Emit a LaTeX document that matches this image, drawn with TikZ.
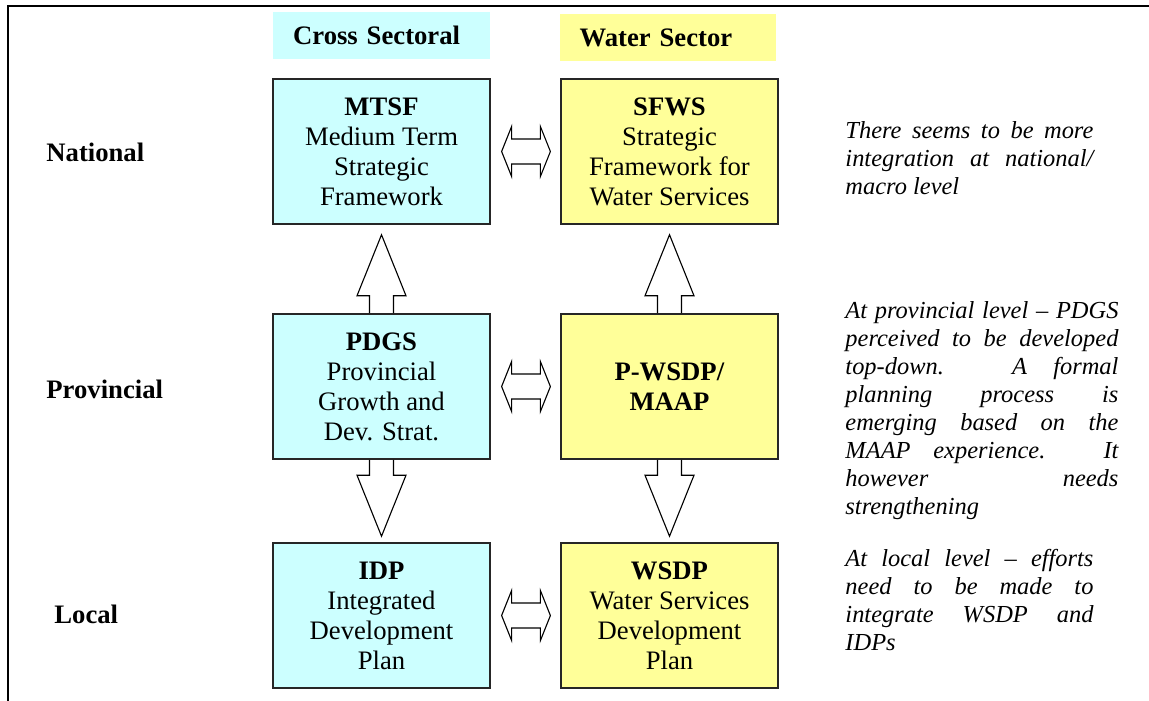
\documentclass[tikz,border=0pt]{standalone}
\usepackage{fontspec}
\setmainfont{Liberation Serif}
\usetikzlibrary{calc}

\definecolor{crosscyan}{RGB}{204,255,255}
\definecolor{wateryellow}{RGB}{255,255,153}

\begin{document}
\begin{tikzpicture}[x=0.45pt, y=-0.45pt,
    plan/.style={draw=black!85, line width=0.7pt, minimum width=97.5pt, minimum height=65.25pt,
        align=center, inner sep=2pt, font=\fontsize{12}{13.5}\selectfont},
    head/.style={inner xsep=9pt, text width=79.5pt, minimum height=21.5pt, align=left,
        font=\fontsize{12}{13.5}\selectfont\bfseries},
    level/.style={anchor=west, inner sep=0pt, font=\fontsize{12}{13.5}\selectfont\bfseries},
    note/.style={anchor=base west, inner sep=0pt, align=justify,
        font=\fontsize{11}{12.6}\selectfont\itshape},
    blk/.style={draw, line width=0.5pt, line join=miter}]
        \useasboundingbox (0,0) rectangle (1149,700);
        \clip (0,0) rectangle (1149,700);
        \draw[line width=0.9pt] (8,710) -- (8,6) -- (1160,6);

        % column heads
        \node[head, fill=crosscyan] (cross) at (381.5,35.5) {Cross Sectoral};
        \node[head, fill=wateryellow] (water) at (668,37.5) {Water Sector};

        % levels
        \node[level] (national) at (46,152) {National};
        \node[level] (provincial) at (46,389) {Provincial};
        \node[level] (local) at (54,614) {Local};

        % plans
        \node[plan, fill=crosscyan] (mtsf) at (381.5,151.5) {\textbf{MTSF}\\Medium Term\\Strategic\\Framework};
        \node[plan, fill=wateryellow] (sfws) at (669.5,151.5) {\textbf{SFWS}\\Strategic\\Framework for\\Water Services};
        \node[plan, fill=crosscyan] (pdgs) at (381.5,386.5) {\textbf{PDGS}\\Provincial\\Growth and\\Dev. Strat.};
        \node[plan, fill=wateryellow] (pwsdp) at (669.5,386.5) {\textbf{P-WSDP/}\\\textbf{MAAP}};
        \node[plan, fill=crosscyan] (idp) at (381.5,615.5) {\textbf{IDP}\\Integrated\\Development\\Plan};
        \node[plan, fill=wateryellow] (wsdp) at (669.5,615.5) {\textbf{WSDP}\\Water Services\\Development\\Plan};

        % block arrows
        \foreach \a/\b in {mtsf/sfws, pdgs/pwsdp, idp/wsdp}
            \draw[blk] ($(\a.east)+(11,0)$) -- ++(10,-25) -- ++(0,12.5) -- ($(\b.west)+(-20,-12.5)$)
                -- ++(0,-12.5) -- ++(10,25) -- ++(-10,25) -- ++(0,-12.5)
                -- ($(\a.east)+(21,12.5)$) -- ++(0,12.5) -- cycle;
        \foreach \a/\b in {pdgs/mtsf, pwsdp/sfws}
            \draw[blk] ($(\a.north)+(-12,0)$) -- ($(\b.south)+(-12,71)$) -- ++(-12.5,0)
                -- ($(\b.south)+(0,10)$) -- ($(\b.south)+(24.5,71)$) -- ++(-12.5,0) -- ($(\a.north)+(12,0)$);
        \foreach \a/\b in {pdgs/idp, pwsdp/wsdp}
            \draw[blk] ($(\a.south)+(-12,0)$) -- ($(\b.north)+(-12,-67)$) -- ++(-12.5,0)
                -- ($(\b.north)+(0,-6)$) -- ($(\b.north)+(24.5,-67)$) -- ++(-12.5,0) -- ($(\a.south)+(12,0)$);

        % remarks
        \node[note, text width=111.6pt] (natnote) at (845,138) {There seems to be more\linebreak
            integration at national/\linebreak macro level};
        \node[note, text width=122.85pt] (provnote) at (845,318) {At provincial level -- PDGS\linebreak
            perceived to be developed\linebreak top-down. A formal\linebreak planning process is\linebreak
            emerging based on the\linebreak MAAP experience. It\linebreak however needs\linebreak strengthening};
        \node[note, text width=111.6pt] (locnote) at (845,566) {At local level -- efforts\linebreak
            need to be made to\linebreak integrate WSDP and\linebreak IDPs};
    \end{tikzpicture}
\end{document}
